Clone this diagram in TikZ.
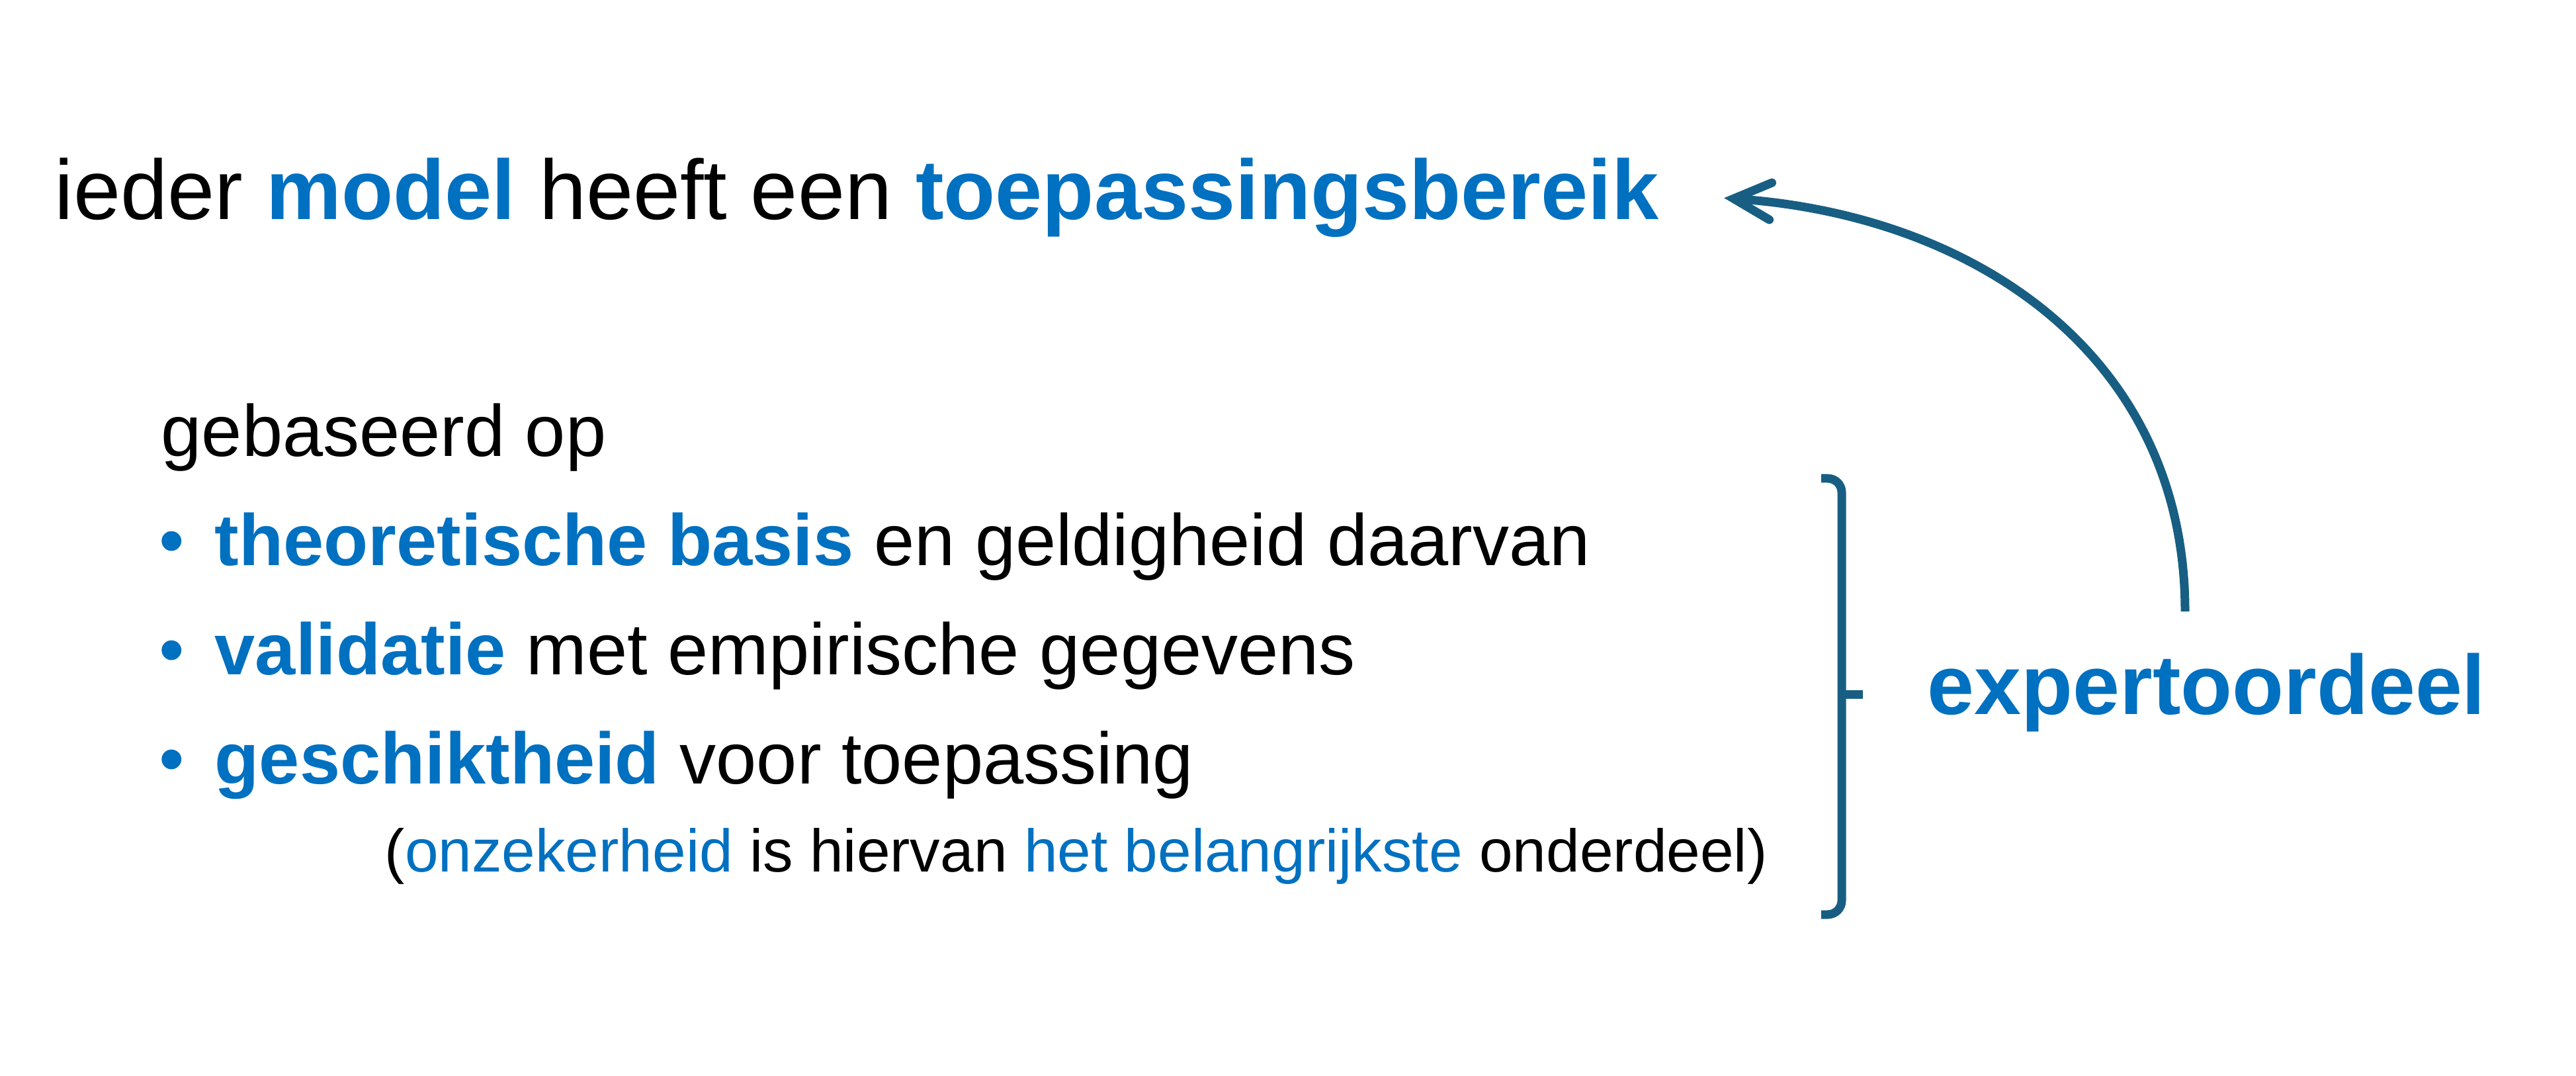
\documentclass[tikz,border=0pt]{standalone}
\usepackage{fontspec}
\setmainfont{Liberation Sans}
\usetikzlibrary{arrows.meta}
\definecolor{modelblue}{HTML}{0070C0}
\definecolor{linkteal}{HTML}{175E82}
\newcommand\begrip[1]{\textcolor{modelblue}{\bfseries #1}}
\newcommand\nadruk[1]{\textcolor{modelblue}{#1}}
\tikzset{
	regel/.style={anchor=base west, inner sep=0pt},
	stip/.style={anchor=base, inner sep=0pt, text=modelblue},
	link/.style={line width=1.3mm, color=linkteal, line cap=round},
}

\begin{document}
\begin{tikzpicture}
		%%%%% START %%%%%
		
		\useasboundingbox (0, 0) rectangle (38.94, -16.26);
		
		\node[regel, font=\fontsize{36.4pt}{44pt}\selectfont] (title) at (0.82, -3.32) {ieder \begrip{model} heeft een \begrip{toepassingsbereik}};
		
		\node[regel, font=\fontsize{31.3pt}{38pt}\selectfont] (basis) at (2.43, -6.90) {gebaseerd op};
		
		\node[stip, font=\fontsize{31.3pt}{38pt}\selectfont] (dot1) at (2.595, -8.54) {•};
		\node[regel, font=\fontsize{31.3pt}{38pt}\selectfont] (theorie) at (3.24, -8.54) {\begrip{theoretische basis} en geldigheid daarvan};
		
		\node[stip, font=\fontsize{31.3pt}{38pt}\selectfont] (dot2) at (2.595, -10.19) {•};
		\node[regel, font=\fontsize{31.3pt}{38pt}\selectfont] (validatie) at (3.24, -10.19) {\begrip{validatie} met empirische gegevens};
		
		\node[stip, font=\fontsize{31.3pt}{38pt}\selectfont] (dot3) at (2.595, -11.84) {•};
		\node[regel, font=\fontsize{31.3pt}{38pt}\selectfont] (geschikt) at (3.24, -11.84) {\begrip{geschiktheid} voor toepassing};
		
		\node[regel, font=\fontsize{25.9pt}{31pt}\selectfont] (onzeker) at (5.81, -13.17) {(\nadruk{onzekerheid} is hiervan \nadruk{het belangrijkste} onderdeel)};
		
		\draw[link, line cap=butt, rounded corners=6pt] (27.53, -7.23) -- (27.84, -7.23) -- (27.84, -13.82) -- (27.53, -13.82);
		\draw[link, line cap=butt] (27.84, -10.49) -- (28.16, -10.49);
		
		\node[regel, font=\fontsize{36.3pt}{44pt}\selectfont] (expert) at (29.13, -10.79) {\begrip{expertoordeel}};
		
		\coordinate (voet) at (33.03, -9.24);
		\draw[link, line cap=butt, -{Straight Barb[length=5.6mm, width=5.6mm, line cap=round]}] (voet) to[out=90, in=-4, looseness=1.05] ([xshift=9.8mm]title.east);
		
		%%%%% END %%%%%
	\end{tikzpicture}
\end{document}
